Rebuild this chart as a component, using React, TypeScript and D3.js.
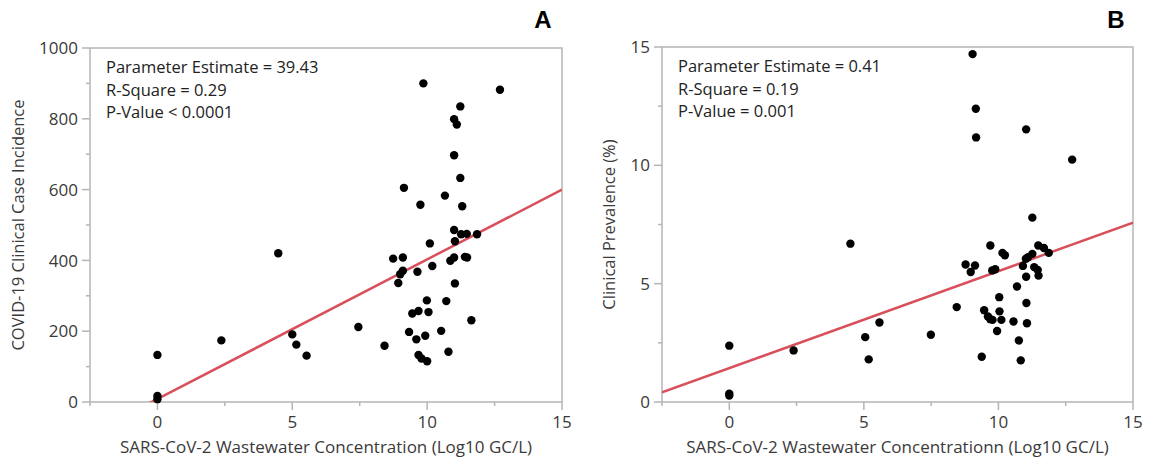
import React from 'react';
import * as d3 from 'd3';

// panel A: wastewater concentration vs case incidence
const xA = [0, 0, 0, 2.37, 4.48, 5.0, 5.15, 5.53, 7.45, 8.42, 8.74, 9.1, 9.14, 8.93, 9.0, 9.1, 9.33, 9.45, 9.6, 9.68,
  9.64, 9.75, 9.86, 9.68, 9.79, 10.0, 9.93, 9.99, 10.05, 10.1, 10.19, 10.52, 10.66, 10.71, 10.79, 10.86, 11.0, 11.03,
  11.0, 11.03, 11.0, 11.0, 11.1, 11.23, 11.23, 11.3, 11.26, 11.47, 11.4, 11.48, 11.64, 11.85, 12.7];
const yA = [133, 17, 8, 174, 420, 191, 162, 131, 212, 159, 405, 408, 605, 336, 361, 371, 198, 250, 177, 257,
  368, 557, 900, 133, 123, 115, 187, 287, 254, 448, 384, 201, 583, 285, 142, 399, 408, 335,
  486, 454, 697, 799, 784, 835, 633, 553, 474, 475, 410, 408, 231, 474, 882];

// panel B: wastewater concentration vs clinical prevalence
const xB = [0, 0, 0, 2.39, 4.5, 5.05, 5.18, 5.58, 7.49, 8.45, 8.78, 8.97, 9.13, 9.04, 9.16, 9.17, 9.38, 9.47, 9.61, 9.7,
  9.7, 9.78, 9.77, 9.88, 9.95, 10.03, 10.04, 10.11, 10.15, 10.24, 10.56, 10.69, 10.76, 10.83, 10.91, 11.03, 11.03,
  11.04, 11.06, 11.02, 11.1, 11.26, 11.26, 11.33, 11.46, 11.49, 11.48, 11.69, 11.87, 12.74];
const yB = [2.38, 0.35, 0.27, 2.18, 6.69, 2.74, 1.8, 3.36, 2.84, 4.01, 5.81, 5.49, 5.77, 14.7, 12.39, 11.18, 1.91, 3.88, 3.61, 6.61,
  3.5, 3.47, 5.56, 5.61, 3.0, 4.43, 3.83, 3.47, 6.3, 6.2, 3.4, 4.88, 2.6, 1.76, 5.75, 11.52, 5.29,
  4.18, 3.33, 6.05, 6.12, 7.79, 6.26, 5.7, 5.58, 5.34, 6.61, 6.51, 6.3, 10.24];

const xTicks = [0, 5, 10, 15];
const xMinor = [-2.5, 2.5, 7.5, 12.5];
const yTicksA = [0, 200, 400, 600, 800, 1000];
const yMinorA = [100, 300, 500, 700, 900];
const yTicksB = [0, 5, 10, 15];
const yMinorB = [2.5, 7.5, 12.5];

const statsA = ['Parameter Estimate = 39.43', 'R-Square = 0.29', 'P-Value < 0.0001'];
const statsB = ['Parameter Estimate = 0.41', 'R-Square = 0.19', 'P-Value = 0.001'];

const fitA = { slope: 39.43, intercept: 8.5 };
const fitB = { slope: 0.41, intercept: 1.43 };

const font = "'Open Sans', 'Noto Sans', sans-serif";
const axisColor = '#b5b5b5';
const textColor = '#3a3a3a';

type PanelProps = {
  id: string;
  left: number;
  right: number;
  top: number;
  bottom: number;
  xs: number[];
  ys: number[];
  yMax: number;
  yTicks: number[];
  yMinor: number[];
  stats: string[];
  fit: { slope: number; intercept: number };
  xTitle: string;
  yTitle: string;
  yTitleX: number;
  letter: string;
  letterX: number;
};

function Panel(p: PanelProps) {
  const x = d3.scaleLinear().domain([-2.5, 15]).range([p.left, p.right]);
  const y = d3.scaleLinear().domain([0, p.yMax]).range([p.bottom, p.top]);

  const fitLine = d3.line<number>()
    .x(d => x(d))
    .y(d => y(p.fit.intercept + p.fit.slope * d));

  const clipId = 'clip-' + p.id;
  const w = p.right - p.left;
  const h = p.bottom - p.top;

  return (
    <g>
      <defs>
        <clipPath id={clipId}>
          <rect x={p.left} y={p.top} width={w} height={h} />
        </clipPath>
      </defs>
      <rect x={p.left} y={p.top} width={w} height={h} fill="none" stroke={axisColor} strokeWidth={1.5} />

      {/* y ticks */}
      {p.yTicks.map(t => (
        <g key={'yt' + t}>
          <line x1={p.left - 8} x2={p.left} y1={y(t)} y2={y(t)} stroke={axisColor} strokeWidth={1.5} />
          <text x={p.left - 12} y={y(t)} dy="0.36em" textAnchor="end" fontSize={17} fill={textColor} fontFamily={font}>{t}</text>
        </g>
      ))}
      {p.yMinor.map(t => (
        <line key={'ym' + t} x1={p.left - 4} x2={p.left} y1={y(t)} y2={y(t)} stroke={axisColor} strokeWidth={1.5} />
      ))}

      {/* x ticks */}
      {xTicks.map(t => (
        <g key={'xt' + t}>
          <line x1={x(t)} x2={x(t)} y1={p.bottom} y2={p.bottom + 8} stroke={axisColor} strokeWidth={1.5} />
          <text x={x(t)} y={p.bottom + 26} textAnchor="middle" fontSize={17} fill={textColor} fontFamily={font}>{t}</text>
        </g>
      ))}
      {xMinor.map(t => (
        <line key={'xm' + t} x1={x(t)} x2={x(t)} y1={p.bottom} y2={p.bottom + 4} stroke={axisColor} strokeWidth={1.5} />
      ))}

      {/* fit line */}
      <g clipPath={`url(#${clipId})`}>
        <path d={fitLine(x.domain()) || ''} fill="none" stroke="#d9505c" strokeWidth={2.5} />
      </g>

      {/* points */}
      {p.xs.map((d, i) => (
        <circle key={i} cx={x(d)} cy={y(p.ys[i])} r={4.2} fill="#000" />
      ))}

      {/* stats */}
      {p.stats.map((s, i) => (
        <text key={s} x={p.left + 16} y={p.top + 25 + i * 22.5} fontSize={16.5} fill="#222" fontFamily={font}>{s}</text>
      ))}

      <text x={(p.left + p.right) / 2} y={453} textAnchor="middle" fontSize={17} fill={textColor} fontFamily={font}>{p.xTitle}</text>
      <text transform={`translate(${p.yTitleX},${(p.top + p.bottom) / 2}) rotate(-90)`} textAnchor="middle" fontSize={16.5} fill={textColor} fontFamily={font}>{p.yTitle}</text>

      <text x={p.letterX} y={28} textAnchor="middle" fontSize={24} fontWeight="bold" fill="#000" fontFamily="'Liberation Sans', Arial, sans-serif">{p.letter}</text>
    </g>
  );
}

export default function App() {
  return (
    <svg width={1156} height={458} style={{ position: 'absolute', left: 0, top: 0, background: '#fff' }}>
      <Panel id="a" left={90} right={562} top={48} bottom={402} xs={xA} ys={yA} yMax={1000}
        yTicks={yTicksA} yMinor={yMinorA} stats={statsA} fit={fitA}
        xTitle="SARS-CoV-2 Wastewater Concentration (Log10 GC/L)"
        yTitle="COVID-19 Clinical Case Incidence" yTitleX={24} letter="A" letterX={543} />
      <Panel id="b" left={662} right={1133} top={47} bottom={402} xs={xB} ys={yB} yMax={15}
        yTicks={yTicksB} yMinor={yMinorB} stats={statsB} fit={fitB}
        xTitle="SARS-CoV-2 Wastewater Concentrationn (Log10 GC/L)"
        yTitle="Clinical Prevalence (%)" yTitleX={615} letter="B" letterX={1116} />
    </svg>
  );
}
